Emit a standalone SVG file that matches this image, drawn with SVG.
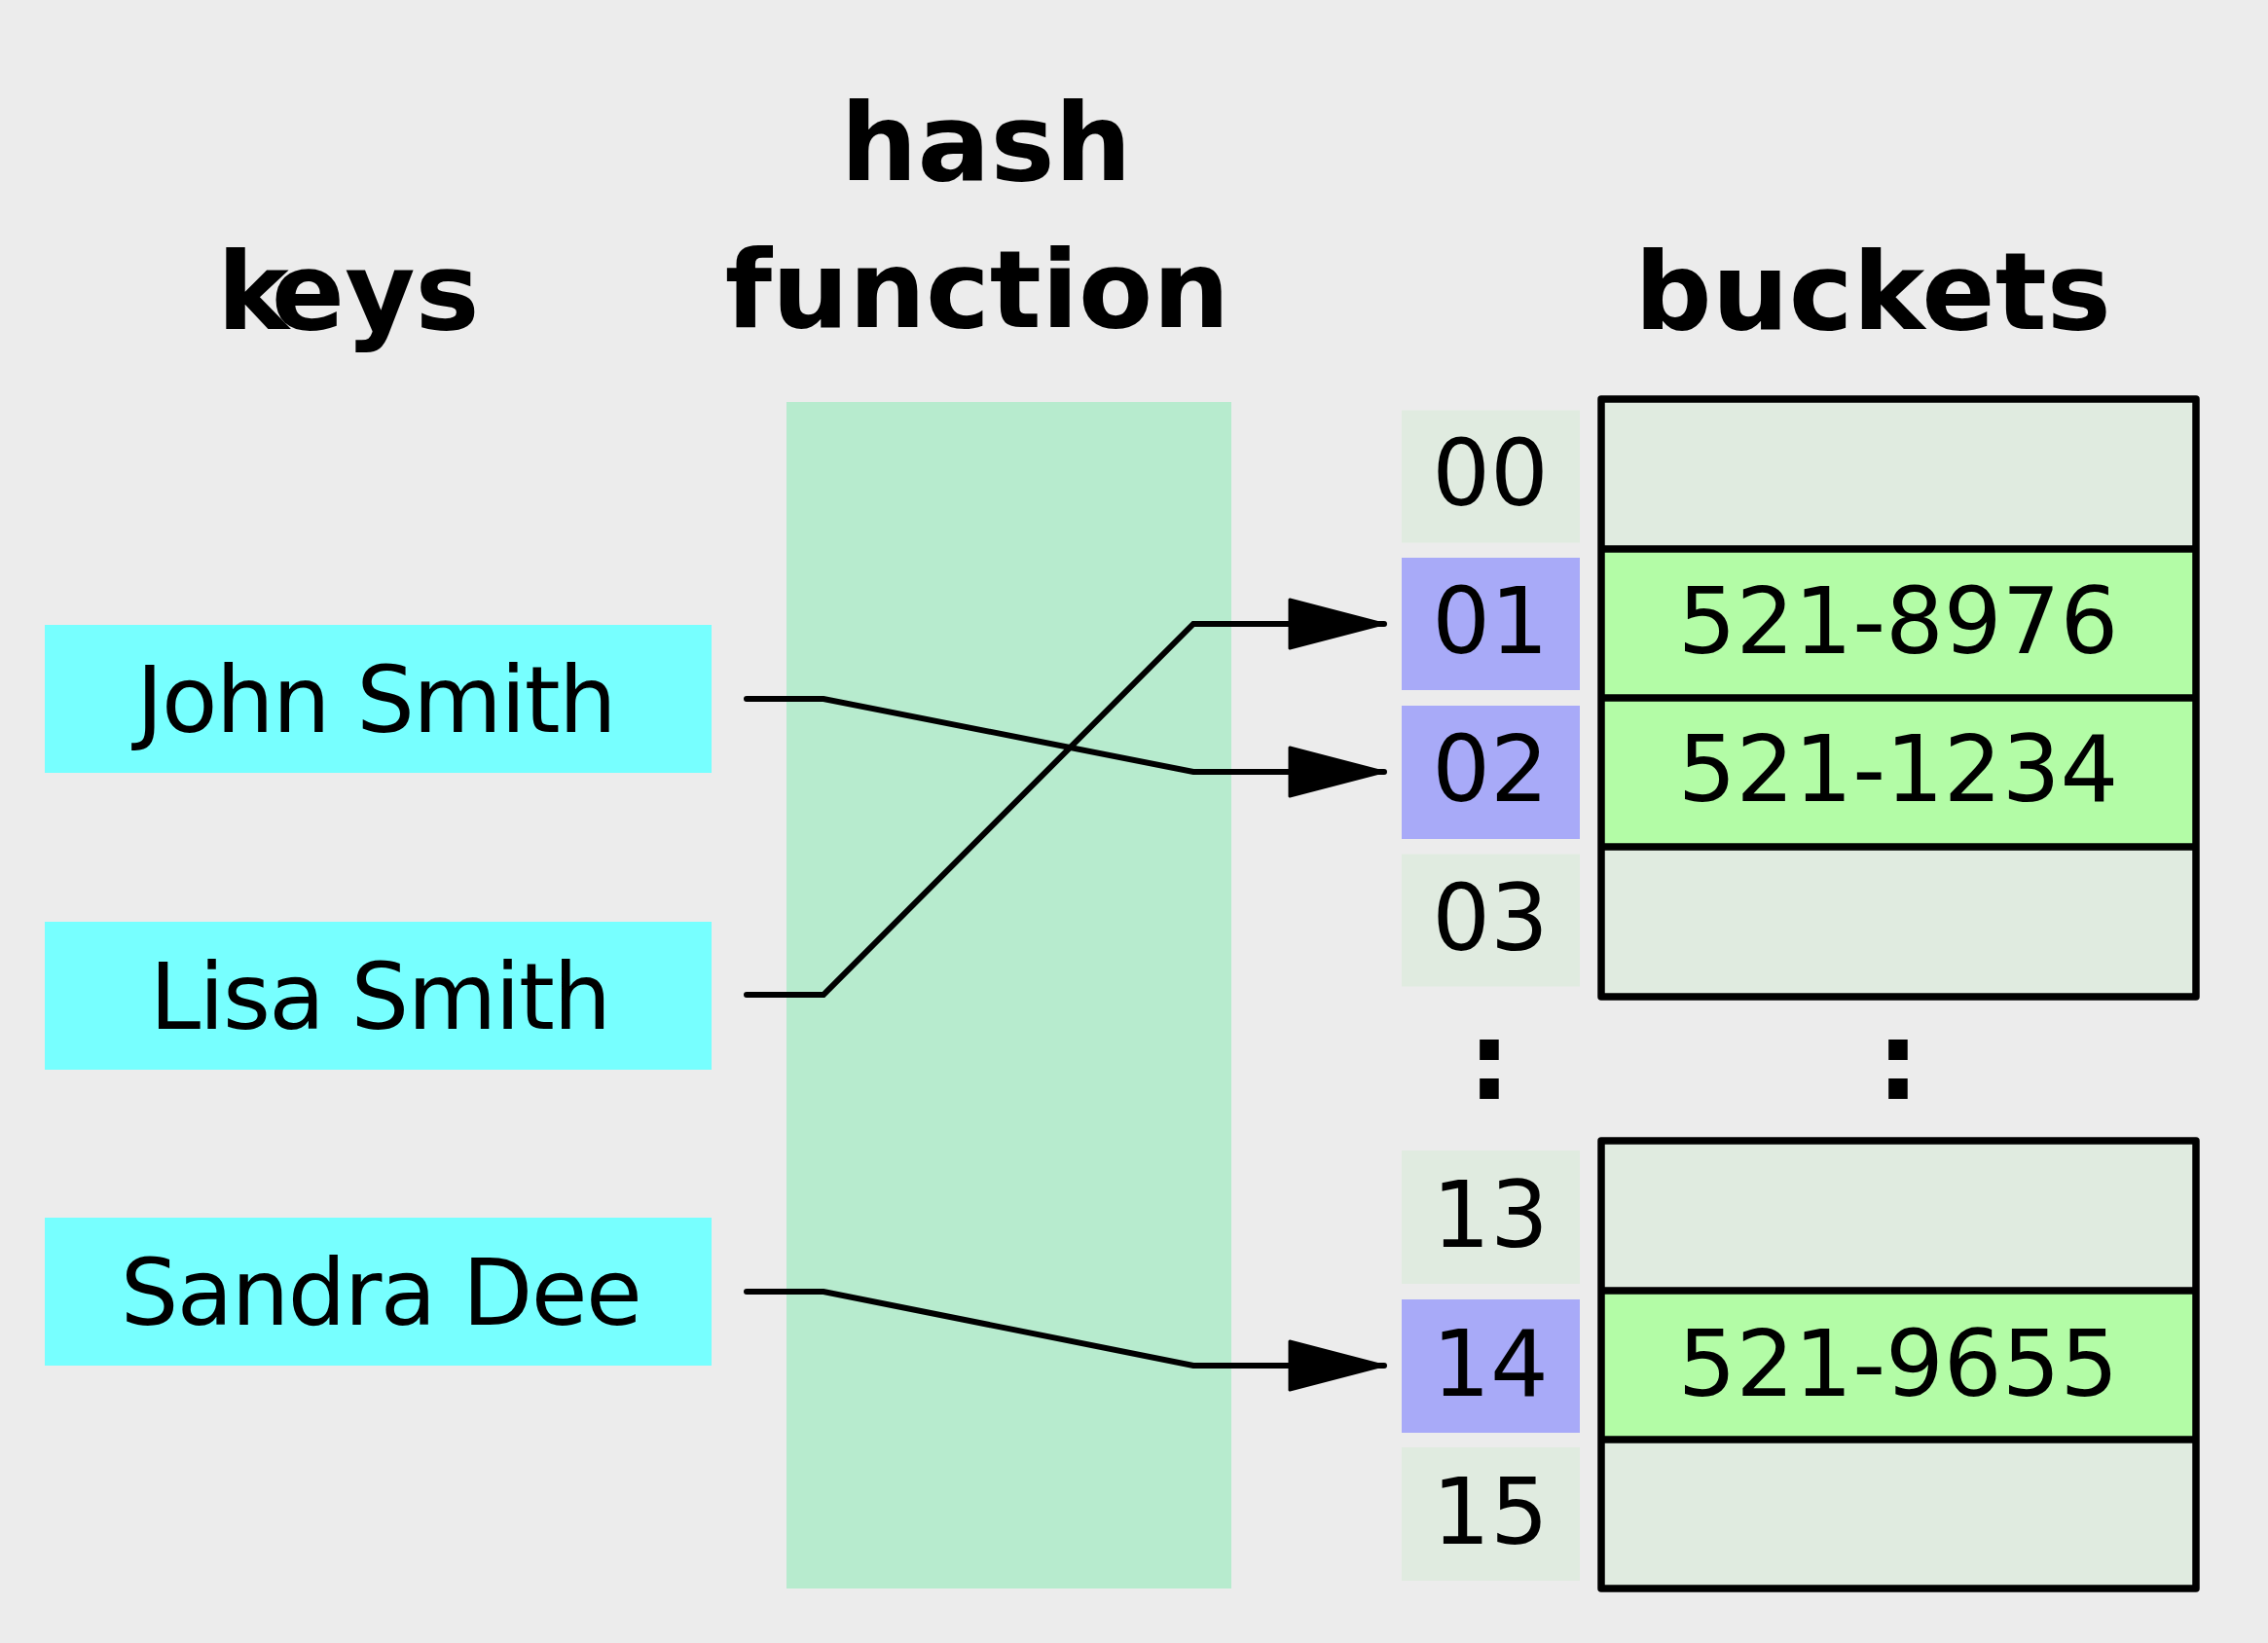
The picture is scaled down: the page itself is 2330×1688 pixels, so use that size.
<svg xmlns="http://www.w3.org/2000/svg" width="2330" height="1688" viewBox="0 0 2330 1688">
<style>
.h{font-family:"DejaVu Sans","Liberation Sans",sans-serif;font-weight:bold;font-size:111px;fill:#000}
.t{font-family:"DejaVu Sans","Liberation Sans",sans-serif;font-size:94px;fill:#000;text-anchor:middle}
.kt{letter-spacing:-1.6px}
.key{fill:#77ffff}
.idx{fill:#e0ebe0}
.hit{fill:#a8aaf8}
.emp{fill:#e0ebe0}
.full{fill:#b3fca6}
.frame{fill:none;stroke:#000;stroke-width:7.5;stroke-linejoin:round}
.div{stroke:#000;stroke-width:7.5}
.conn{fill:none;stroke:#000;stroke-width:6;stroke-linecap:round;stroke-linejoin:miter}
</style>
<defs>
<marker id="arr" markerUnits="userSpaceOnUse" viewBox="0 0 100 54" refX="99" refY="27" markerWidth="100" markerHeight="54" orient="auto">
<path d="M2,2 L98,27 L2,52 z" fill="#000" stroke="#000" stroke-width="3" stroke-linejoin="round"/>
</marker>
</defs>
<rect width="2330" height="1688" fill="#ececec"/>

<g id="headings">
<text class="h" x="223" y="338" dx="0 -15">keys</text>
<text class="h" x="1013" y="185" text-anchor="middle">hash</text>
<text class="h" x="1004" y="336" text-anchor="middle">function</text>
<text class="h" x="1924" y="338" text-anchor="middle">buckets</text>
</g>

<g id="hash-function"><rect x="808" y="413" width="457" height="1219" fill="#b7ebce"/></g>

<g id="key-john"><rect class="key" x="46" y="642" width="685" height="152"/><text class="t kt" x="386" y="752">John Smith</text></g>
<g id="key-lisa"><rect class="key" x="46" y="947" width="685" height="152"/><text class="t kt" x="390" y="1057">Lisa Smith</text></g>
<g id="key-sandra"><rect class="key" x="46" y="1251" width="685" height="152"/><text class="t kt" x="391" y="1361">Sandra Dee</text></g>

<g id="idx-00"><rect class="idx" x="1440" y="421.5" width="183" height="136"/><text class="t" x="1531" y="519">00</text></g>
<g id="idx-01"><rect class="hit" x="1440" y="573" width="183" height="136"/><text class="t" x="1531" y="671">01</text></g>
<g id="idx-02"><rect class="hit" x="1440" y="725" width="183" height="137"/><text class="t" x="1531" y="823">02</text></g>
<g id="idx-03"><rect class="idx" x="1440" y="877.5" width="183" height="136"/><text class="t" x="1531" y="976">03</text></g>
<g id="idx-dots"><text class="h" x="1530" y="1129" font-size="90" text-anchor="middle">:</text></g>
<g id="idx-13"><rect class="idx" x="1440" y="1182" width="183" height="137"/><text class="t" x="1531" y="1281">13</text></g>
<g id="idx-14"><rect class="hit" x="1440" y="1335" width="183" height="137"/><text class="t" x="1531" y="1434">14</text></g>
<g id="idx-15"><rect class="idx" x="1440" y="1487" width="183" height="137"/><text class="t" x="1531" y="1586">15</text></g>

<g id="buckets-upper">
<rect class="emp" x="1645" y="410" width="611" height="154"/>
<rect class="full" x="1645" y="564" width="611" height="153"/>
<rect class="full" x="1645" y="717" width="611" height="153"/>
<rect class="emp" x="1645" y="870" width="611" height="154"/>
<line class="div" x1="1645" y1="564" x2="2256" y2="564"/>
<line class="div" x1="1645" y1="717" x2="2256" y2="717"/>
<line class="div" x1="1645" y1="870" x2="2256" y2="870"/>
<rect class="frame" x="1645" y="410" width="611" height="614"/>
<text class="t" x="1950" y="671">521-8976</text>
<text class="t" x="1950" y="823">521-1234</text>
</g>
<g id="bucket-dots"><text class="h" x="1950" y="1129" font-size="90" text-anchor="middle">:</text></g>
<g id="buckets-lower">
<rect class="emp" x="1645" y="1172" width="611" height="154"/>
<rect class="full" x="1645" y="1326" width="611" height="153"/>
<rect class="emp" x="1645" y="1479" width="611" height="153"/>
<line class="div" x1="1645" y1="1326" x2="2256" y2="1326"/>
<line class="div" x1="1645" y1="1479" x2="2256" y2="1479"/>
<rect class="frame" x="1645" y="1172" width="611" height="460"/>
<text class="t" x="1950" y="1434">521-9655</text>
</g>

<g id="connectors">
<path class="conn" d="M767,718 H846 L1226,793 H1422" marker-end="url(#arr)"/>
<path class="conn" d="M767,1022 H846 L1226,641 H1422" marker-end="url(#arr)"/>
<path class="conn" d="M767,1327 H846 L1226,1403 H1422" marker-end="url(#arr)"/>
</g>
</svg>
